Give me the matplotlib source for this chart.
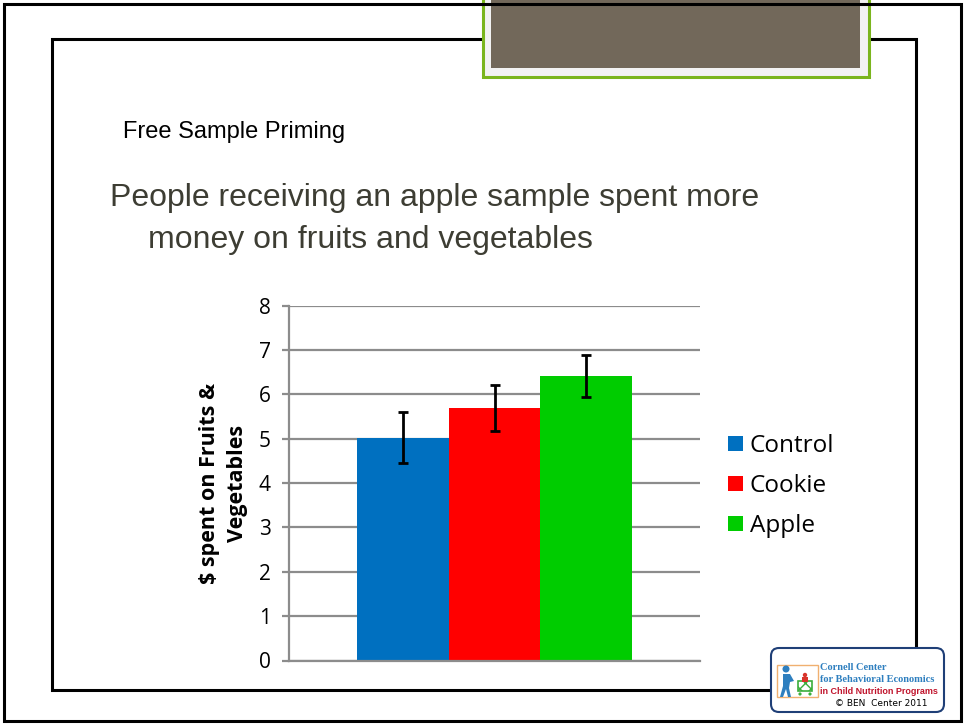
import matplotlib
matplotlib.use('Agg')
import matplotlib.pyplot as plt
from matplotlib.patches import Rectangle, FancyBboxPatch, Circle, Polygon

# data
groups = ['Control', 'Cookie', 'Apple']
spent = [5.02, 5.69, 6.41]
err = [0.57, 0.52, 0.48]
colors = ['#0070c0', '#ff0000', '#00cc00']
yticks = [0, 1, 2, 3, 4, 5, 6, 7, 8]

W, H = 965, 724
fig = plt.figure(figsize=(W / 100, H / 100), dpi=100)

# slide background drawn in pixel coordinates
bg = fig.add_axes([0, 0, 1, 1])
bg.set_xlim(0, W)
bg.set_ylim(H, 0)
bg.axis('off')

bg.add_patch(Rectangle((52, 39), 864, 651, fill=False, ec='black', lw=2.2))
bg.add_patch(Rectangle((483, -5), 386, 82, fc='#f2f2f2', ec='#7ab51d', lw=2.2))
bg.add_patch(Rectangle((491, -5), 369, 73, fc='#72685a', ec='none'))
bg.add_patch(Rectangle((4, 4), 957, 717, fill=False, ec='black', lw=2.2))

bg.text(123, 132, 'Free Sample Priming', fontsize=17, family='Liberation Sans',
        va='center', ha='left', color='black')
bg.text(110, 198, 'People receiving an apple sample spent more', fontsize=23,
        family='Liberation Sans', va='center', ha='left', color='#3d3d33')
bg.text(148, 240, 'money on fruits and vegetables', fontsize=23,
        family='Liberation Sans', va='center', ha='left', color='#3d3d33')

# logo
bg.add_patch(FancyBboxPatch((771, 648), 173, 64, boxstyle='round,pad=0,rounding_size=8',
                            fc='white', ec='#1f3f77', lw=1.5))
bg.add_patch(Rectangle((777, 665), 41, 32, fc='white', ec='#f0b070', lw=1))
bg.add_patch(Circle((786, 669), 3.5, fc='#2e7fbf', ec='none'))
bg.add_patch(Polygon([(783, 674), (790, 674), (794, 681), (790, 682), (789, 688),
                      (791, 697), (788, 697), (786, 689), (783, 697), (780, 697),
                      (783, 686)], fc='#2e7fbf', ec='none'))
bg.add_patch(Rectangle((798, 681), 14, 10, fc='none', ec='#3cae3c', lw=1.2, hatch='xxx'))
bg.add_patch(Circle((800, 694), 1.6, fc='#3cae3c'))
bg.add_patch(Circle((810, 694), 1.6, fc='#3cae3c'))
bg.add_patch(Circle((805, 675), 2.2, fc='#d9342b'))
bg.add_patch(Rectangle((802, 677), 6, 5, fc='#d9342b'))
bg.text(820, 668, 'Cornell Center', fontsize=7.5, family='Liberation Serif',
        weight='bold', color='#2e7fbf', va='center')
bg.text(820, 680, 'for Behavioral Economics', fontsize=7.5, family='Liberation Serif',
        weight='bold', color='#2e7fbf', va='center')
bg.text(820, 692, 'in Child Nutrition Programs', fontsize=6.5, family='Liberation Sans',
        weight='bold', color='#c0142c', va='center')
bg.text(835, 704, '\u00a9 BEN  Center 2011', fontsize=6.5, family='DejaVu Sans',
        color='black', va='center')

# chart
ax = fig.add_axes([289 / W, 1 - 660.5 / H, 411 / W, 355 / H])
w = 0.223
xs = [-w, 0, w]
for x, v, e, c, g in zip(xs, spent, err, colors, groups):
    ax.bar(x, v, width=w, color=c, label=g, zorder=2)
    ax.errorbar(x, v, yerr=e, color='black', lw=2, capsize=3.5, capthick=2, zorder=3)

ax.set_xlim(-0.5, 0.5)
ax.set_ylim(0, 8)
ax.set_yticks(yticks)
ax.set_yticklabels([str(t) for t in yticks], fontsize=15, family='Open Sans')
ax.set_xticks([])
ax.grid(axis='y', color='#8c8c8c', lw=1.6, zorder=0)
for s in ['top', 'right']:
    ax.spines[s].set_visible(False)
for s in ['left', 'bottom']:
    ax.spines[s].set_color('#8c8c8c')
    ax.spines[s].set_linewidth(1.6)
ax.tick_params(axis='y', length=5, width=1.6, color='#8c8c8c', pad=8)
ax.set_ylabel('$ spent on Fruits &\nVegetables', fontsize=15.5, weight='bold',
              family='Open Sans', linespacing=1.4, labelpad=8)

ax.legend(loc='center left', bbox_to_anchor=(728 / W, 1 - 486 / H),
          bbox_transform=fig.transFigure, frameon=False,
          prop={'family': 'Open Sans', 'size': 17.5},
          handlelength=0.6, handleheight=0.6, handletextpad=0.3,
          labelspacing=0.65, borderpad=0, borderaxespad=0)

fig.savefig('out.png', dpi=100)
